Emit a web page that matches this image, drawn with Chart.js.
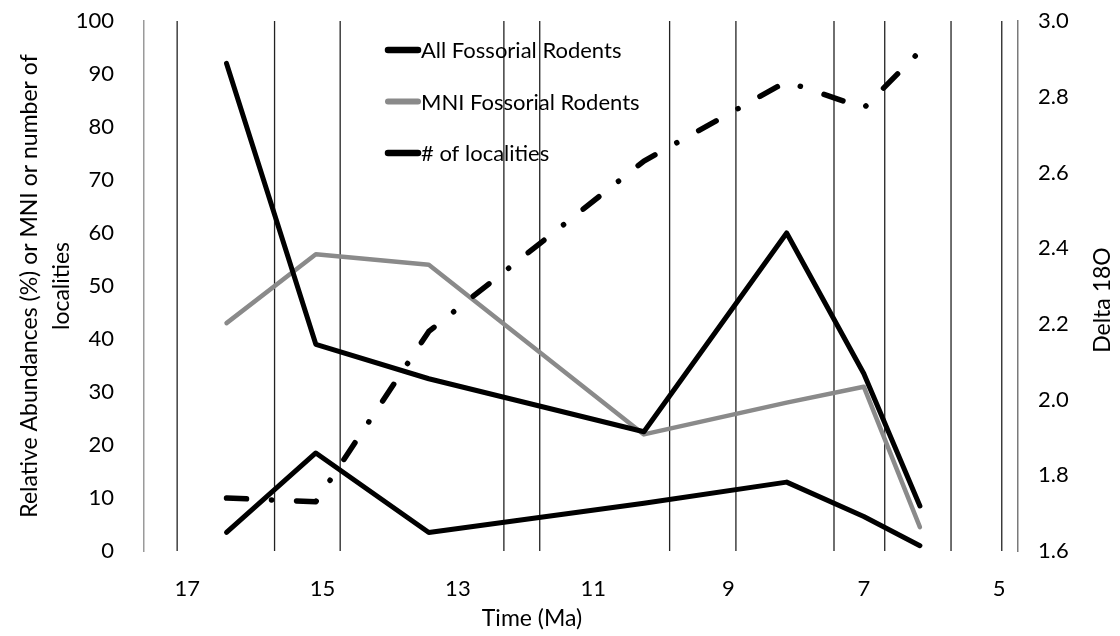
<!DOCTYPE html>
<html>
<head>
<meta charset="utf-8">
<script src="https://cdn.jsdelivr.net/npm/chart.js@4.4.0/dist/chart.umd.min.js"></script>
<style>
html,body{margin:0;padding:0;background:#fff;}
#wrap{width:1120px;height:636px;position:relative;}
</style>
</head>
<body>
<div id="wrap"><canvas id="c" width="1120" height="636"></canvas></div>
<script>
// ---- data ----
const timeMa = [16.42, 15.10, 13.43, 10.25, 8.14, 7.00, 6.17];
const allFossorial = [92, 39, 32.5, 22.5, 60, 33.5, 8.5];
const mniFossorial = [43, 56, 54, 22, 28, 31, 4.5];
const localities = [3.5, 18.5, 3.5, 9, 13, 6.5, 1];
const delta18O = [1.74, 1.73, 2.18, 2.63, 2.84, 2.77, 2.92];
const boundaryMa = [17.15, 15.71, 14.74, 12.32, 11.79, 9.87, 8.89, 7.44, 6.69, 5.71, 4.96];
const xTickLabels = [17, 15, 13, 11, 9, 7, 5];
const leftTickLabels = [0, 10, 20, 30, 40, 50, 60, 70, 80, 90, 100];
const rightTickLabels = [1.6, 1.8, 2.0, 2.2, 2.4, 2.6, 2.8, 3.0];

const FONT = 'Lato, "Open Sans", sans-serif';
const pts = arr => timeMa.map((t, i) => ({x: t, y: arr[i]}));

const datasets = [];
boundaryMa.forEach(b => {
  datasets.push({
    label: '_boundary', data: [{x: b, y: 0}, {x: b, y: 100}], yAxisID: 'y',
    borderColor: '#222', borderWidth: 1.3, pointRadius: 0, order: 10
  });
});
datasets.push({
  label: 'Delta 18O', data: pts(delta18O), yAxisID: 'y2',
  borderColor: '#000', borderWidth: 5.5, borderDash: [20, 25, 0.1, 25], borderCapStyle: 'round',
  borderJoinStyle: 'round', pointRadius: 0, tension: 0, order: 1
});
datasets.push({
  label: 'MNI Fossorial Rodents', data: pts(mniFossorial), yAxisID: 'y',
  borderColor: '#8a8a8a', borderWidth: 4.5, borderJoinStyle: 'round', borderCapStyle: 'round',
  pointRadius: 0, tension: 0, order: 3
});
datasets.push({
  label: 'All Fossorial Rodents', data: pts(allFossorial), yAxisID: 'y',
  borderColor: '#000', borderWidth: 5, borderJoinStyle: 'round', borderCapStyle: 'round',
  pointRadius: 0, tension: 0, order: 2
});
datasets.push({
  label: '# of localities', data: pts(localities), yAxisID: 'y',
  borderColor: '#000', borderWidth: 5, borderJoinStyle: 'round', borderCapStyle: 'round',
  pointRadius: 0, tension: 0, order: 2
});

const legendOrder = ['All Fossorial Rodents', 'MNI Fossorial Rodents', '# of localities'];

const overlay = {
  id: 'overlay',
  afterDraw(chart) {
    const ctx = chart.ctx;
    ctx.save();
    ctx.font = '22px ' + FONT;
    ctx.textBaseline = 'middle';
    ctx.textAlign = 'left';
    legendOrder.forEach((name, i) => {
      const ds = chart.data.datasets.find(d => d.label === name);
      const y = 50 + i * 51.5;
      ctx.beginPath();
      ctx.strokeStyle = ds.borderColor;
      ctx.lineWidth = ds.borderWidth + 1.5;
      ctx.lineCap = 'round';
      ctx.moveTo(388, y); ctx.lineTo(418, y);
      ctx.stroke();
      ctx.fillStyle = '#000';
      ctx.fillText(name, 421, y + 1);
    });
    ctx.fillStyle = '#000';
    ctx.textAlign = 'center';
    ctx.font = '23px ' + FONT;
    ctx.fillText('Time (Ma)', 532, 619);
    ctx.translate(1103, 300);
    ctx.rotate(-Math.PI / 2);
    ctx.fillText('Delta 18O', 0, 0);
    ctx.restore();
  }
};

const noVPad = s => { s.paddingTop = 0; s.paddingBottom = 0; };

new Chart(document.getElementById('c'), {
  type: 'line',
  data: {datasets},
  options: {
    responsive: false, animation: false, devicePixelRatio: 1, events: [],
    layout: {padding: {top: 21, left: 0, right: 0, bottom: 0}},
    plugins: {legend: {display: false}, tooltip: {enabled: false}},
    scales: {
      x: {
        type: 'linear', reverse: true, min: 4.72, max: 17.64,
        afterBuildTicks: s => { s.ticks = xTickLabels.map(v => ({value: v})); },
        afterFit: s => { s.height = 85; s.paddingLeft = 0; s.paddingRight = 0; },
        grid: {display: false}, border: {display: false},
        ticks: {font: {family: FONT, size: 22}, color: '#000', padding: 17, maxRotation: 0, autoSkip: false,
                callback: v => String(v)}
      },
      y: {
        type: 'linear', position: 'left', min: 0, max: 100,
        afterBuildTicks: s => { s.ticks = leftTickLabels.map(v => ({value: v})); },
        afterFit: s => { s.width = 144; noVPad(s); },
        grid: {display: false},
        border: {display: true, color: '#9a9a9a', width: 1.5, dash: [3, 2]},
        ticks: {font: {family: FONT, size: 22}, color: '#000', padding: 22, autoSkip: false},
        title: {display: true, text: ['Relative Abundances (%) or MNI or number of', 'localities'],
                font: {family: FONT, size: 23, lineHeight: 1.4}, color: '#000', padding: {top: 13}}
      },
      y2: {
        type: 'linear', position: 'right', min: 1.6, max: 3.0,
        afterBuildTicks: s => { s.ticks = rightTickLabels.map(v => ({value: v})); },
        afterFit: s => { s.width = 102; noVPad(s); },
        grid: {display: false},
        border: {display: true, color: '#7a7a7a', width: 1.5},
        ticks: {font: {family: FONT, size: 22}, color: '#000', padding: 12, autoSkip: false,
                callback: v => Number(v).toFixed(1)}
      }
    }
  },
  plugins: [overlay]
});
</script>
</body>
</html>
